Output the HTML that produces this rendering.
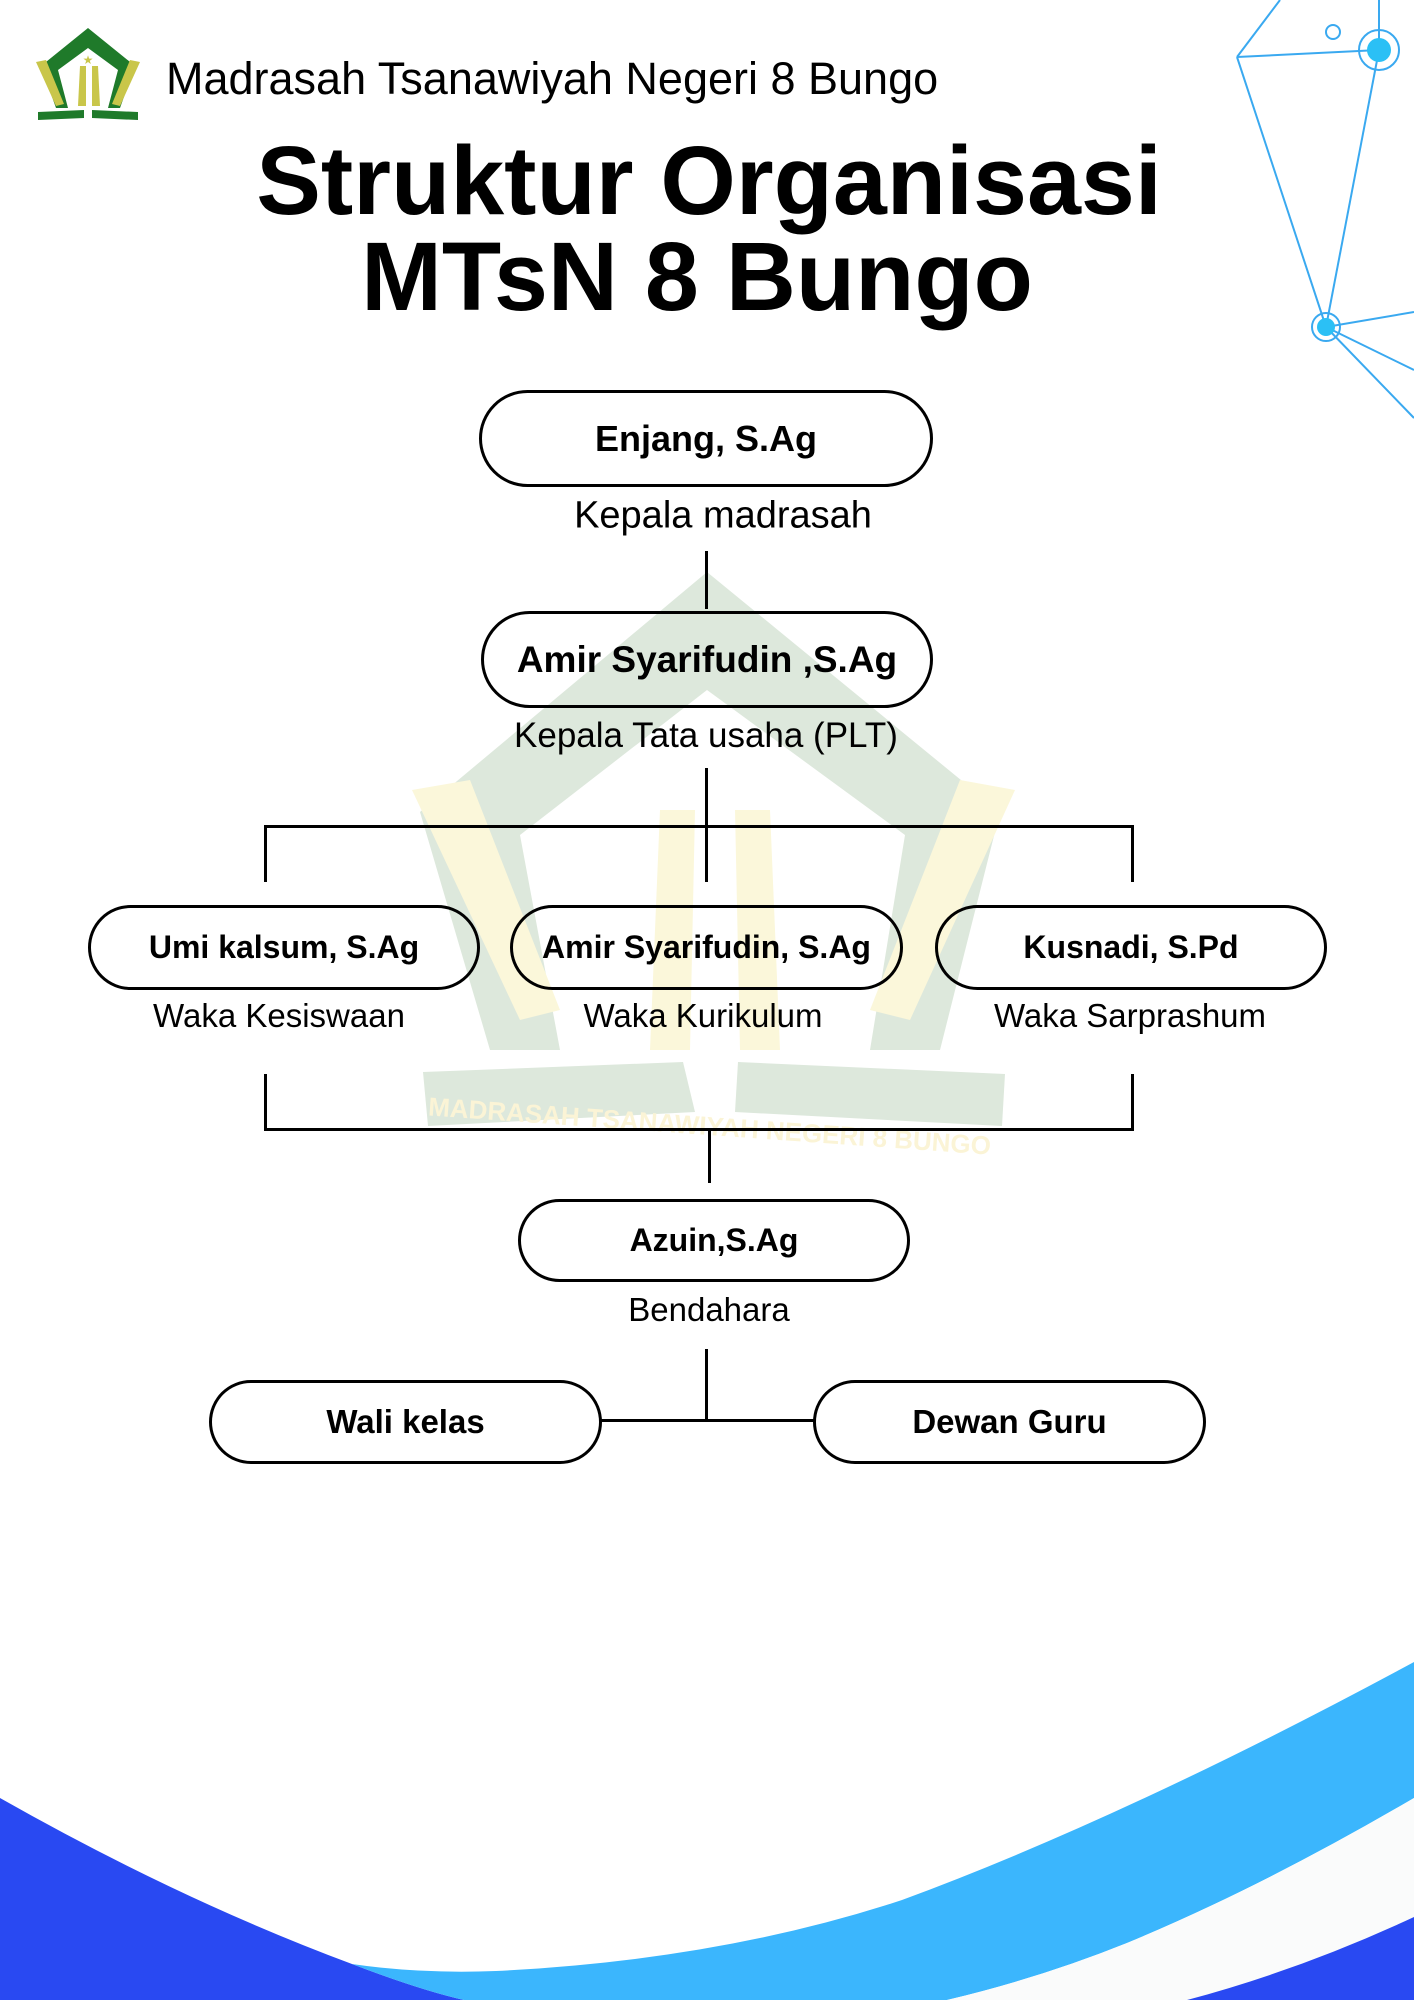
<!DOCTYPE html>
<html><head><meta charset="utf-8"><style>
body{margin:0;width:1414px;height:2000px;position:relative;overflow:hidden;background:#fff;font-family:"Liberation Sans",sans-serif;}
.t{position:absolute;white-space:nowrap;color:#000;transform:translate(-50%,-50%);}
.box{position:absolute;border:3px solid #000;border-radius:60px;box-sizing:border-box;display:flex;align-items:center;justify-content:center;font-weight:bold;font-size:32px;background:transparent;}
.l{position:absolute;background:#000;}
</style></head><body>
<svg width="1414" height="2000" style="position:absolute;left:0;top:0">
<g>
<path d="M707,572 L1000,812 L940,1050 L870,1050 L905,835 L707,690 L520,835 L560,1050 L490,1050 L420,812 Z" fill="#dde8dc"/>
<path d="M412,790 L470,780 L560,1010 L520,1020 Z" fill="#fbf7da"/>
<path d="M1015,790 L960,780 L870,1010 L910,1020 Z" fill="#fbf7da"/>
<path d="M660,810 L695,810 L690,1050 L650,1050 Z" fill="#fbf7da"/>
<path d="M735,810 L770,810 L780,1050 L740,1050 Z" fill="#fbf7da"/>
<path d="M423,1072 L683,1062 L695,1112 L428,1126 Z" fill="#dde8dc"/>
<path d="M738,1062 L1005,1074 L1002,1126 L735,1112 Z" fill="#dde8dc"/>
<text x="709" y="1135" font-family="Liberation Sans" font-weight="bold" font-size="26" fill="#fbf4d6" text-anchor="middle" transform="rotate(4 709 1135)">MADRASAH TSANAWIYAH NEGERI 8 BUNGO</text>
</g>
<path d="M88,28 L135,66 L120,108 L108,108 L118,70 L88,48 L58,70 L68,108 L56,108 L41,66 Z" fill="#1f7a2a"/>
<path d="M36,62 L46,60 L64,104 L56,106 Z" fill="#c9c64a"/>
<path d="M140,62 L130,60 L112,104 L120,106 Z" fill="#c9c64a"/>
<path d="M80,66 L86,66 L86,106 L78,106 Z" fill="#c9c64a"/>
<path d="M92,66 L98,66 L100,106 L92,106 Z" fill="#c9c64a"/>
<path d="M38,112 L84,110 L84,118 L38,120 Z" fill="#1f7a2a"/>
<path d="M92,110 L138,112 L138,120 L92,118 Z" fill="#1f7a2a"/>
<text x="88" y="64" font-size="12" fill="#c9c64a" text-anchor="middle">★</text>
<g stroke="#3aa9f0" stroke-width="2" fill="none">
<line x1="1237" y1="57" x2="1280" y2="0"/>
<line x1="1237" y1="57" x2="1379" y2="50"/>
<line x1="1379" y1="50" x2="1379" y2="0"/>
<line x1="1237" y1="57" x2="1326" y2="327"/>
<line x1="1379" y1="50" x2="1326" y2="327"/>
<line x1="1326" y1="327" x2="1414" y2="312"/>
<line x1="1326" y1="327" x2="1414" y2="370"/>
<line x1="1326" y1="327" x2="1414" y2="418"/>
<circle cx="1379" cy="50" r="20"/>
<circle cx="1333" cy="32" r="7"/>
<circle cx="1326" cy="327" r="14"/>
</g>
<circle cx="1379" cy="50" r="12" fill="#2bc0f5"/>
<circle cx="1326" cy="327" r="9" fill="#2bc0f5"/>
<!-- waves -->
<path d="M0,1798 Q180,1900 352,1964 Q420,1990 464,2000 L0,2000 Z" fill="#2949f2"/>
<path d="M352,1964 Q420,1974 496,1971 Q720,1960 902,1900 Q1127,1817 1414,1662 L1414,1798 Q1262,1887 1127,1943 Q1040,1978 947,2000 L464,2000 Q420,1990 352,1964 Z" fill="#3bb6fd"/>
<path d="M947,2000 Q1040,1978 1127,1943 Q1262,1887 1414,1798 L1414,1917 Q1300,1970 1187,2000 Z" fill="#fafbfb"/>
<path d="M1187,2000 Q1300,1970 1414,1917 L1414,2000 Z" fill="#2949f2"/>
</svg>

<div class="t" style="left:166px;top:79px;transform:translateY(-50%);font-size:45px;">Madrasah Tsanawiyah Negeri 8 Bungo</div>
<div class="t" style="left:709px;top:181px;font-size:97px;font-weight:bold;">Struktur Organisasi</div>
<div class="t" style="left:697px;top:277px;font-size:97px;font-weight:bold;">MTsN 8 Bungo</div>

<div class="box" style="left:479px;top:390px;width:454px;height:97px;font-size:36px;">Enjang, S.Ag</div>
<div class="t" style="left:723px;top:516px;font-size:38px;">Kepala madrasah</div>
<div class="l" style="left:705px;top:551px;width:3px;height:58px;"></div>
<div class="box" style="left:481px;top:611px;width:452px;height:97px;font-size:37px;">Amir Syarifudin ,S.Ag</div>
<div class="t" style="left:706px;top:736px;font-size:35px;">Kepala Tata usaha (PLT)</div>
<div class="l" style="left:705px;top:768px;width:3px;height:114px;"></div>
<div class="l" style="left:264px;top:825px;width:870px;height:3px;"></div>
<div class="l" style="left:264px;top:825px;width:3px;height:57px;"></div>
<div class="l" style="left:1131px;top:825px;width:3px;height:57px;"></div>

<div class="box" style="left:88px;top:905px;width:392px;height:85px;font-size:32px;">Umi kalsum, S.Ag</div>
<div class="box" style="left:510px;top:905px;width:393px;height:85px;font-size:32px;">Amir Syarifudin, S.Ag</div>
<div class="box" style="left:935px;top:905px;width:392px;height:85px;font-size:32px;">Kusnadi, S.Pd</div>
<div class="t" style="left:279px;top:1016px;font-size:33px;">Waka Kesiswaan</div>
<div class="t" style="left:703px;top:1016px;font-size:33px;">Waka Kurikulum</div>
<div class="t" style="left:1130px;top:1016px;font-size:33px;">Waka Sarprashum</div>

<div class="l" style="left:264px;top:1074px;width:3px;height:57px;"></div>
<div class="l" style="left:1131px;top:1074px;width:3px;height:57px;"></div>
<div class="l" style="left:264px;top:1128px;width:870px;height:3px;"></div>
<div class="l" style="left:708px;top:1128px;width:3px;height:55px;"></div>

<div class="box" style="left:518px;top:1199px;width:392px;height:83px;font-size:32px;">Azuin,S.Ag</div>
<div class="t" style="left:709px;top:1310px;font-size:33px;">Bendahara</div>
<div class="l" style="left:705px;top:1349px;width:3px;height:72px;"></div>
<div class="l" style="left:600px;top:1419px;width:214px;height:3px;"></div>
<div class="box" style="left:209px;top:1380px;width:393px;height:84px;font-size:33px;">Wali kelas</div>
<div class="box" style="left:813px;top:1380px;width:393px;height:84px;font-size:33px;">Dewan Guru</div>
</body></html>
